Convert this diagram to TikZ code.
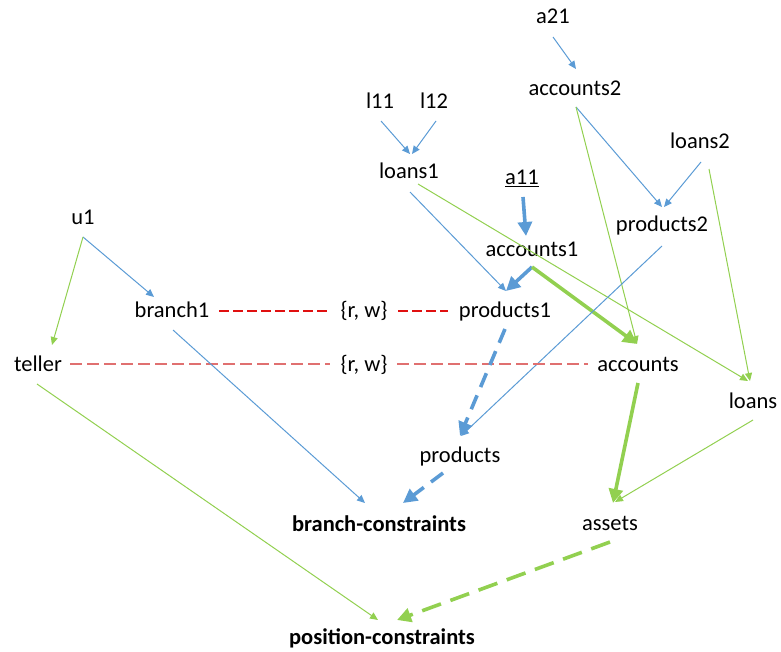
\documentclass[tikz,border=0pt]{standalone}
\usepackage{fontspec}
\setmainfont{Carlito}
\usetikzlibrary{arrows.meta,calc}
\definecolor{eblue}{HTML}{5B9BD5}
\definecolor{egreen}{HTML}{92D050}
\definecolor{dred}{HTML}{E01010}
\definecolor{lred}{HTML}{E07070}
\begin{document}
\begin{tikzpicture}[x=1pt,y=-1pt,
  lbl/.style={anchor=base,inner sep=0pt,font=\fontsize{22.5}{27}\selectfont},
  blbl/.style={lbl,font=\fontsize{22.5}{27}\selectfont\bfseries},
  thinb/.style={eblue,line width=1pt,-{Triangle[length=8pt,width=7pt]}},
  thing/.style={egreen,line width=1pt,-{Triangle[length=8pt,width=7pt]}},
  thickb/.style={eblue,line width=3.6pt,-{Triangle[length=14pt,width=14pt]}},
  thickg/.style={egreen,line width=3.6pt,-{Triangle[length=14pt,width=14pt]}},
  dashb/.style={thickb,dash pattern=on 15pt off 9pt},
  dashg/.style={thickg,dash pattern=on 20pt off 10pt},
  reddash/.style={dred,line width=1.3pt,dash pattern=on 10pt off 4pt},
  lreddash/.style={lred,line width=1.4pt,dash pattern=on 12pt off 5pt}]
\useasboundingbox (0,0) rectangle (781,652);
% nodes
\node[lbl] (a21) at (553,24) {a21};
\node[lbl] (accounts2) at (575,96) {accounts2};
\node[lbl] (l11) at (380,109) {l11};
\node[lbl] (l12) at (434,109) {l12};
\node[lbl] (loans1) at (409,179) {loans1};
\node[lbl] (a11) at (522,185) {\underline{a11}};
\node[lbl] (loans2) at (700,149) {loans2};
\node[lbl] (products2) at (662,232) {products2};
\node[lbl] (accounts1) at (532,256) {accounts1};
\node[lbl] (u1) at (83,225) {u1};
\node[lbl] (branch1) at (172,317) {branch1};
\node[lbl] (rw1) at (364,317) {\{r, w\}};
\node[lbl] (products1) at (505,317) {products1};
\node[lbl] (teller) at (38,371) {teller};
\node[lbl] (rw2) at (364,371) {\{r, w\}};
\node[lbl] (accounts) at (638,371) {accounts};
\node[lbl] (loans) at (753,408) {loans};
\node[lbl] (products) at (460,462) {products};
\node[blbl] (bc) at (379,531) {branch-constraints};
\node[lbl] (assets) at (610,530) {assets};
\node[blbl] (pc) at (382,644) {position-constraints};
% connectors
\draw[thinb] ($(a21.base)+(0,13)$) -- ($(accounts2.base)+(1,-27)$);
\draw[thinb] ($(l11.base)+(1,12)$) -- ($(loans1.base)+(1,-25)$);
\draw[thinb] ($(l12.base)+(2,12)$) -- ($(loans1.base)+(3,-25)$);
\draw[thinb] ($(accounts2.base)+(1,11)$) -- ($(products2.base)+(0,-25)$);
\draw[thinb] ($(loans2.base)+(1,13)$) -- ($(products2.base)+(2,-25)$);
\draw[thing] ($(accounts2.base)+(1,11)$) -- ($(accounts.base)+(-1,-27)$);
\draw[thing] ($(loans2.base)+(9,20)$) -- ($(loans.base)+(-3,-27)$);
\draw[thinb] ($(loans1.base)+(1,13)$) -- ($(products1.base)+(1,-26)$);
\draw[thing] ($(loans1.base)+(9,5)$) -- ($(loans.base)+(-5,-27)$);
\draw[thickb] ($(a11.base)+(1,12)$) -- ($(accounts1.base)+(-6,-20)$);
\draw[thickb] ($(accounts1.base)+(0,11)$) -- ($(products1.base)+(1,-26)$);
\draw[thickg] ($(accounts1.base)+(0,11)$) -- ($(accounts.base)+(-1,-27)$);
\draw[thinb] ($(products2.base)+(0,14)$) -- ($(products.base)+(1,-26)$);
\draw[thinb] ($(u1.base)+(0,12)$) -- ($(branch1.base)+(-18,-20)$);
\draw[thing] ($(u1.base)+(0,12)$) -- ($(teller.base)+(14,-26)$);
\draw[reddash] ($(branch1.base)+(47,-6)$) -- ($(rw1.base)+(-34,-6)$);
\draw[reddash] ($(rw1.base)+(34,-6)$) -- ($(products1.base)+(-57,-6)$);
\draw[lreddash] ($(teller.base)+(32,-7)$) -- ($(rw2.base)+(-34,-7)$);
\draw[lreddash] ($(rw2.base)+(33,-7)$) -- ($(accounts.base)+(-50,-7)$);
\draw[dashb] ($(products1.base)+(0,12)$) -- ($(products.base)+(0,-26)$);
\draw[thinb] ($(branch1.base)+(1,13)$) -- ($(bc.base)+(-14,-28)$);
\draw[dashb] ($(products.base)+(-17,11)$) -- ($(bc.base)+(24,-28)$);
\draw[thickg] ($(accounts.base)+(0,12)$) -- ($(assets.base)+(3,-27)$);
\draw[thing] ($(loans.base)+(0,12)$) -- ($(assets.base)+(5,-28)$);
\draw[thing] ($(teller.base)+(-1,13)$) -- ($(pc.base)+(-4,-24)$);
\draw[dashg] ($(assets.base)+(0,12)$) -- ($(pc.base)+(15,-24)$);
\end{tikzpicture}
\end{document}
